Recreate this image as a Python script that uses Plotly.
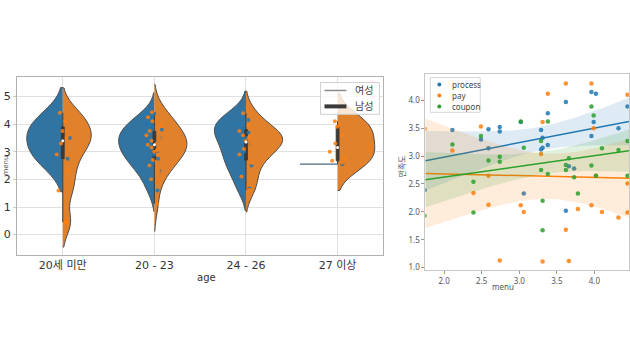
import numpy as np
import plotly.graph_objects as go

# ---------------- data ----------------
categories = ["20세 미만", "20 - 23", "24 - 26", "27 이상"]
gender_names = ["여성", "남성"]

female_menu = [
    [2.75, 2.9, 3.5, 3.9, 4.12],
    [1.6, 2.0, 2.3, 2.5, 2.6, 2.75, 2.9, 3.0, 3.1, 3.2, 3.3, 3.4, 3.5, 3.6, 3.7, 3.8, 3.9, 4.0, 4.2, 4.37],
    [1.67, 2.2, 2.5, 2.8, 3.0, 3.3, 3.5, 3.7, 3.85, 4.0, 4.15, 4.39],
    [2.55],
]
male_menu = [
    [0.45, 1.6, 2.3, 2.9, 3.3, 3.5, 3.75, 4.1, 4.41],
    [1.12, 2.0, 2.3, 2.5, 2.7, 2.9, 3.0, 3.05, 3.15, 3.25, 3.3, 3.4, 3.5, 3.6, 3.75, 3.93, 4.1, 4.25, 4.43],
    [1.62, 2.1, 2.6, 2.9, 3.1, 3.3, 3.4, 3.5, 3.6, 3.75, 3.95, 4.39],
    [2.6, 2.67, 2.75, 3.0, 3.3, 3.6, 3.9, 4.0, 4.1],
]

process_x = [1.74, 2.11, 2.49, 2.59, 2.59, 2.74, 2.74, 3.02, 3.06, 3.29, 3.29, 3.31, 3.31, 3.38,
             3.38, 3.62, 3.62, 3.66, 3.73, 3.96, 3.96, 3.99, 4.02, 4.32, 4.44]
process_y = [2.39, 3.47, 3.30, 3.48, 3.14, 3.52, 3.44, 3.61, 2.33, 3.47, 3.12, 3.33, 3.15, 3.77,
             3.20, 3.97, 2.02, 2.82, 2.78, 4.15, 3.36, 3.61, 4.12, 3.50, 3.89]
pay_x = [1.74, 2.11, 2.39, 2.49, 2.59, 2.59, 2.74, 3.02, 3.06, 3.29, 3.31, 3.31,
         3.38, 3.62, 3.62, 3.66, 3.78, 3.96, 3.96, 3.99, 4.02, 4.10, 4.32, 4.44, 4.44, 4.44]
pay_y = [3.49, 3.10, 2.34, 3.53, 2.65, 2.13, 1.13, 2.12, 2.00, 3.04, 3.61, 1.11,
         4.12, 4.30, 1.68, 1.12, 2.05, 4.30, 2.12, 3.50, 2.65, 2.00, 1.90, 4.10, 2.51, 1.99]
coupon_x = [1.74, 2.11, 2.39, 2.39, 2.49, 2.59, 2.74, 2.74, 3.02, 3.06, 3.29, 3.29, 3.31,
            3.31, 3.38, 3.38, 3.62, 3.62, 3.66, 3.73, 3.78, 3.96, 3.96, 3.99, 4.02, 4.10,
            4.32, 4.44, 4.44]
coupon_y = [1.93, 3.21, 2.54, 1.99, 3.36, 2.92, 2.99, 2.90, 3.62, 3.15, 2.75, 3.27, 2.20,
            1.67, 3.62, 2.68, 2.84, 2.75, 2.96, 2.62, 2.33, 3.89, 2.83, 3.73, 2.65, 3.14,
            3.11, 3.27, 2.65]
series_names = ["process", "pay", "coupon"]

# ---------------- styles ----------------
W, H = 630, 350
VBLUE, VORANGE = "#3274A1", "#E1812C"
PBLUE, PORANGE = "#1f77b4", "#ff7f0e"
EDGE = "#4d4d4d"
female_bw = [0.6, 0.38, 0.4, None]
male_bw = [0.45, 0.5, 0.4, 0.5]
female_w = [0.785, 0.78, 0.69, 0.0]
male_w = [0.62, 0.71, 0.80, 0.81]
single_half = 0.41
LFONT = "DejaVu Sans, Noto Sans CJK KR"
RFONT = "Noto Sans, Noto Sans CJK KR"


def px(xp):
    return xp / W


def py(yp):
    return 1 - yp / H


fig = go.Figure()

# ---------- left: split violins ----------
for i, cat in enumerate(categories):
    for vals, bw, w, side, col in [
        (female_menu[i], female_bw[i], female_w[i], "negative", VBLUE),
        (male_menu[i], male_bw[i], male_w[i], "positive", VORANGE),
    ]:
        if len(vals) > 1:
            fig.add_trace(go.Violin(
                x=[i] * len(vals), y=vals, side=side, bandwidth=bw, width=w,
                spanmode="soft", scalemode="width", points=False,
                fillcolor=col, line=dict(color=EDGE, width=1),
                showlegend=False, hoverinfo="skip", xaxis="x", yaxis="y"))
        else:
            fig.add_trace(go.Scatter(
                x=[i - single_half, i], y=[vals[0], vals[0]], mode="lines",
                line=dict(color="#4c6a85", width=1.3), showlegend=False,
                hoverinfo="skip", xaxis="x", yaxis="y"))

# inner boxes (combined data)
for i, cat in enumerate(categories):
    comb = female_menu[i] + male_menu[i]
    fig.add_trace(go.Box(
        x=[i] * len(comb), y=comb, width=0.03, whiskerwidth=0,
        fillcolor="#3a3a3a", line=dict(color="#3a3a3a", width=1),
        boxpoints=False, showlegend=False, hoverinfo="skip",
        xaxis="x", yaxis="y"))
    fig.add_trace(go.Scatter(
        x=[i], y=[float(np.median(comb))], mode="markers",
        marker=dict(color="white", size=3), showlegend=False,
        hoverinfo="skip", xaxis="x", yaxis="y"))

# strip points
for i, cat in enumerate(categories):
    for vals, col in [(female_menu[i], PBLUE), (male_menu[i], PORANGE)]:
        fig.add_trace(go.Box(
            x=[i] * len(vals), y=vals, width=0.2, boxpoints="all", jitter=1,
            pointpos=0, fillcolor="rgba(0,0,0,0)",
            line=dict(color="rgba(0,0,0,0)", width=0),
            marker=dict(color=col, size=4, opacity=0.85),
            showlegend=False, hoverinfo="y", xaxis="x", yaxis="y"))

# ---------- right: regression plot ----------
xr = [1.75, 4.46]
xg = np.linspace(xr[0], xr[1], 100)
reg_cols = ["#1f77b4", "#ff7f0e", "#2ca02c"]
band_cols = ["rgba(31,119,180,0.15)", "rgba(255,127,14,0.15)", "rgba(44,160,44,0.15)"]
for name, xs, ys, c, bc in zip(series_names, [process_x, pay_x, coupon_x],
                               [process_y, pay_y, coupon_y], reg_cols, band_cols):
    xa, ya = np.array(xs), np.array(ys)
    fig.add_trace(go.Scatter(x=xa, y=ya, mode="markers", name=name,
                             marker=dict(color=c, size=4.5, opacity=0.85),
                             showlegend=False, xaxis="x2", yaxis="y2"))
    b, a = np.polyfit(xa, ya, 1)
    n = len(xa)
    yhat = a + b * xg
    s = np.sqrt(np.sum((ya - (a + b * xa)) ** 2) / (n - 2))
    sxx = np.sum((xa - xa.mean()) ** 2)
    se = s * np.sqrt(1.0 / n + (xg - xa.mean()) ** 2 / sxx)
    up, lo = yhat + 2.06 * se, yhat - 2.06 * se
    fig.add_trace(go.Scatter(x=np.concatenate([xg, xg[::-1]]),
                             y=np.concatenate([up, lo[::-1]]), fill="toself",
                             fillcolor=bc, line=dict(width=0), mode="lines",
                             showlegend=False, hoverinfo="skip", xaxis="x2", yaxis="y2"))
    fig.add_trace(go.Scatter(x=xg, y=yhat, mode="lines", line=dict(color=c, width=1.5),
                             showlegend=False, hoverinfo="skip", xaxis="x2", yaxis="y2"))

# ---------- hand-built legends ----------
shapes = []
annotations = []
# left legend (gender)
shapes.append(dict(type="rect", xref="paper", yref="paper", x0=px(321), x1=px(380),
                   y0=py(115), y1=py(83), fillcolor="rgba(255,255,255,0.8)",
                   line=dict(color="#d0d0d0", width=1), layer="above"))
leg_left_y = [91, 107]
leg_left_style = [dict(color="#8a8a8a", width=1.5), dict(color="#3a3a3a", width=4)]
for name, yy, st in zip(gender_names, leg_left_y, leg_left_style):
    shapes.append(dict(type="line", xref="paper", yref="paper", x0=px(325), x1=px(347),
                       y0=py(yy), y1=py(yy), line=st, layer="above"))
    annotations.append(dict(text=name, x=px(354), y=py(yy), xref="paper", yref="paper",
                            xanchor="left", yanchor="middle", showarrow=False,
                            font=dict(family=LFONT, size=10, color="#444")))
# right legend (series)
shapes.append(dict(type="rect", xref="paper", yref="paper", x0=px(431), x1=px(481),
                   y0=py(113), y1=py(78), fillcolor="rgba(255,255,255,0.8)",
                   line=dict(color="#d8d8d8", width=1), layer="above"))
leg_right_y = [85, 96, 107]
for name, yy, c in zip(series_names, leg_right_y, reg_cols):
    r = 2.0
    shapes.append(dict(type="circle", xref="paper", yref="paper",
                       x0=px(440 - r), x1=px(440 + r), y0=py(yy + r), y1=py(yy - r),
                       fillcolor=c, line=dict(width=0), layer="above"))
    annotations.append(dict(text=name, x=px(451), y=py(yy), xref="paper", yref="paper",
                            xanchor="left", yanchor="middle", showarrow=False,
                            font=dict(family=RFONT, size=8, color="#444")))

# axis titles
annotations += [
    dict(text="age", x=px(195), y=py(279), xref="paper", yref="paper", yanchor="middle",
         showarrow=False, font=dict(family=LFONT, size=10, color="#333")),
    dict(text="menu", x=px(0.5), y=py(166), xref="paper", yref="paper", yanchor="middle",
         xanchor="left", showarrow=False, textangle=-90,
         font=dict(family=LFONT, size=7, color="#555")),
    dict(text="menu", x=px(517), y=py(288), xref="paper", yref="paper", yanchor="middle",
         showarrow=False, font=dict(family=RFONT, size=8, color="#555")),
    dict(text="만족도", x=px(402), y=py(167), xref="paper", yref="paper", yanchor="middle",
         showarrow=False, textangle=-90, font=dict(family=RFONT, size=8, color="#555")),
]

fig.update_layout(
    width=W, height=H, margin=dict(l=0, r=0, t=0, b=0),
    paper_bgcolor="white", plot_bgcolor="white",
    violinmode="overlay", boxmode="overlay", showlegend=False,
    xaxis=dict(domain=[px(17), px(384)], range=[-0.5, 3.5], tickmode="array",
               tickvals=list(range(len(categories))), ticktext=categories,
               showgrid=True, gridcolor="#e0e0e0", zeroline=False,
               showline=True, linecolor="#b0b0b0", mirror=True,
               ticks="", tickfont=dict(family=LFONT, size=11, color="#333")),
    yaxis=dict(domain=[py(256), py(77)], range=[-0.72, 5.72], tickvals=[0, 1, 2, 3, 4, 5],
               showgrid=True, gridcolor="#e0e0e0", zeroline=False,
               showline=True, linecolor="#b0b0b0", mirror=True,
               ticks="outside", ticklen=3, tickcolor="#cccccc",
               tickfont=dict(family=LFONT, size=11, color="#333")),
    xaxis2=dict(domain=[px(426), 1.0], range=xr, anchor="y2",
                tickvals=[2.0, 2.5, 3.0, 3.5, 4.0], tickformat=".1f",
                showgrid=False, zeroline=False, showline=True, linecolor="#c8c8c8",
                mirror=True, ticks="outside", ticklen=3, tickcolor="#999",
                tickfont=dict(family=RFONT, size=8, color="#555")),
    yaxis2=dict(domain=[py(272), py(74)], range=[0.95, 4.48], anchor="x2",
                tickvals=[1.0, 1.5, 2.0, 2.5, 3.0, 3.5, 4.0], tickformat=".1f",
                showgrid=False, zeroline=False, showline=True, linecolor="#c8c8c8",
                mirror=True, ticks="outside", ticklen=3, tickcolor="#999",
                tickfont=dict(family=RFONT, size=8, color="#555")),
    shapes=shapes,
    annotations=annotations,
)

fig.write_html("out.html")
